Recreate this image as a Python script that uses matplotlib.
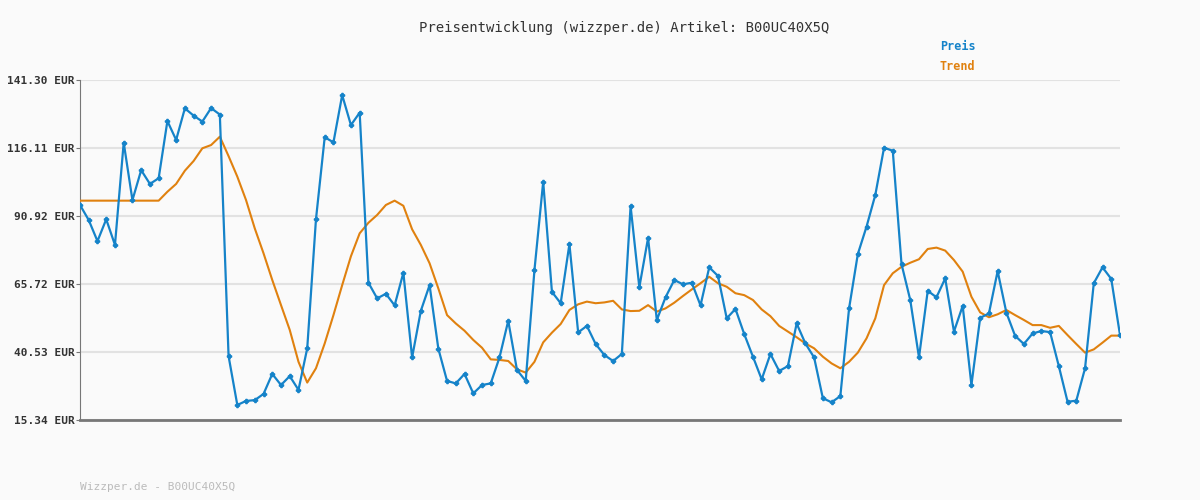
import matplotlib.pyplot as plt
import numpy as np

# price readings (EUR), one per sample
preis = [
    95.0, 89.4, 81.6, 89.7, 80.2, 118.1, 96.8, 107.9, 102.8, 104.9,
    126.1, 119.1, 130.8, 128.1, 125.9, 130.9, 128.5, 39.0, 20.9, 22.4,
    22.7, 25.0, 32.4, 28.3, 31.6, 26.5, 41.9, 89.7, 120.1, 118.2,
    135.7, 124.6, 129.2, 66.2, 60.4, 62.1, 57.8, 69.9, 38.5, 55.8,
    65.3, 41.8, 29.8, 28.9, 32.4, 25.2, 28.3, 28.9, 38.5, 52.1,
    33.9, 29.8, 70.9, 103.6, 62.8, 58.6, 80.5, 47.8, 50.2, 43.5,
    39.4, 37.2, 39.8, 94.6, 64.5, 82.8, 52.4, 60.8, 67.2, 65.6,
    66.2, 57.8, 71.9, 68.7, 53.0, 56.5, 47.2, 38.8, 30.4, 39.8,
    33.5, 35.3, 51.1, 43.7, 38.5, 23.4, 21.9, 24.2, 56.7, 76.8,
    87.0, 98.7, 116.2, 115.1, 73.1, 59.8, 38.5, 63.2, 60.8, 67.8,
    48.1, 57.6, 28.3, 53.2, 54.8, 70.5, 55.1, 46.5, 43.5, 47.4,
    48.3, 47.9, 35.3, 22.1, 22.5, 34.5, 66.0, 71.9, 67.6, 46.8,
]
trend = [
    96.6, 96.6, 96.6, 96.6, 96.6, 96.6, 96.6, 96.6, 96.6, 96.6,
    99.9, 102.8, 107.7, 111.3, 116.0, 117.2, 120.3, 113.1, 105.5, 96.8,
    86.3, 77.1, 67.2, 57.9, 48.7, 36.9, 29.2, 34.5, 43.7, 54.2,
    65.3, 76.0, 84.5, 88.4, 91.3, 95.0, 96.6, 94.7, 86.0, 80.2,
    73.4, 64.1, 54.2, 51.1, 48.4, 45.0, 42.1, 37.8, 37.6, 37.2,
    34.1, 32.9, 36.9, 44.1, 47.7, 50.9, 56.1, 58.2, 59.2, 58.6,
    58.9, 59.5, 56.3, 55.7, 55.8, 57.9, 55.5, 56.7, 58.8, 61.3,
    63.7, 66.0, 68.4, 66.0, 64.7, 62.3, 61.6, 59.8, 56.3, 53.8,
    50.2, 48.1, 46.0, 43.7, 41.9, 38.8, 36.3, 34.5, 36.9, 40.3,
    45.6, 53.0, 65.3, 69.7, 72.1, 73.6, 74.9, 78.7, 79.2, 78.1,
    74.6, 70.3, 61.0, 55.2, 53.4, 54.5, 56.1, 54.2, 52.4, 50.5,
    50.5, 49.5, 50.2, 46.8, 43.5, 40.3, 41.5, 44.0, 46.6, 46.6,
]
y_ticks = [15.34, 40.53, 65.72, 90.92, 116.11, 141.30]
artikel = "B00UC40X5Q"

blue = "#1583c9"
orange = "#e0810f"
bg = "#fafafa"
mono = "DejaVu Sans Mono"

fig = plt.figure(figsize=(12, 5), dpi=100, facecolor=bg)
ax = fig.add_axes([80 / 1200, 80 / 500, 1040 / 1200, 340 / 500], facecolor=bg)

x = np.arange(len(preis))
ax.plot(x, trend, color=orange, lw=1.5, zorder=3)
ax.plot(x, preis, color=blue, lw=1.6, marker="P", ms=3, zorder=4)

ax.set_xlim(0, len(preis) - 1)
ax.set_ylim(y_ticks[0], y_ticks[-1])
ax.set_yticks(y_ticks)
ax.set_yticklabels([f"{v:.2f} EUR" for v in y_ticks], fontsize=8, family=mono,
                   color="#333333", fontweight="bold")
ax.set_xticks([])
ax.tick_params(axis="y", length=3, pad=1, color="#777777")
ax.grid(axis="y", color="#e2e2e2", lw=1.5)
ax.set_axisbelow(True)
for side in ["top", "right"]:
    ax.spines[side].set_visible(False)
ax.spines["left"].set_color("#777777")
ax.spines["bottom"].set_color("#777777")
ax.spines["bottom"].set_linewidth(2)

fig.text(0.52, 1 - 28 / 500, f"Preisentwicklung (wizzper.de) Artikel: {artikel}",
         ha="center", va="center", fontsize=10, family=mono, color="#333333")
fig.text(940 / 1200, 1 - 47 / 500, "Preis", color=blue, fontsize=8.5, family=mono,
         fontweight="bold", va="center")
fig.text(940 / 1200, 1 - 67 / 500, "Trend", color=orange, fontsize=8.5, family=mono,
         fontweight="bold", va="center")
fig.text(80 / 1200, 1 - 487 / 500, f"Wizzper.de - {artikel}", color="#bbbbbb",
         fontsize=8, family=mono, va="center")

fig.savefig("out.png", dpi=100, facecolor=bg)
